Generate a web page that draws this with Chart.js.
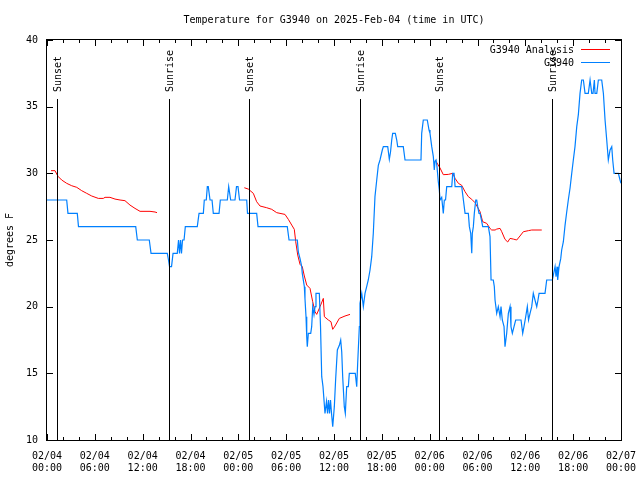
<!DOCTYPE html>
<html>
<head>
<meta charset="utf-8">
<script src="https://cdn.jsdelivr.net/npm/chart.js@4.4.1/dist/chart.umd.min.js"></script>
<style>
  html, body { margin: 0; padding: 0; background: #fff; }
</style>
</head>
<body>
<canvas id="c" width="640" height="480"></canvas>
<script>
const FONT = '"DejaVu Sans Mono", "Liberation Mono", monospace';

// hours since 2025-02-04 00:00 UTC
const obsHours = [
  0, 2.47, 2.63, 3.80, 3.95, 11.13, 11.33, 12.83, 13.05, 15.09,
  15.24, 15.37, 15.62, 15.81, 16.34, 16.50, 16.62, 16.75, 16.87, 17.0,
  17.19, 17.35, 18.85, 19.07, 19.61, 19.73, 19.98, 20.11, 20.23, 20.45,
  20.70, 20.86, 21.58, 21.74, 22.62, 22.79, 23.04, 23.58, 23.77, 23.96,
  24.15, 25.05, 25.15, 26.30, 26.47, 30.14, 30.36, 31.40, 31.52, 31.74,
  31.95, 32.02, 32.28, 32.36, 32.49, 32.58, 32.65, 32.78, 33.08, 33.20,
  33.33, 33.49, 33.62, 33.74, 34.16, 34.31, 34.46, 34.62, 34.87, 35.06,
  35.19, 35.31, 35.44, 35.56, 35.69, 35.84, 36.04, 36.21, 36.42, 36.67,
  36.84, 36.97, 37.09, 37.29, 37.42, 37.59, 37.80, 37.92, 38.67, 38.85,
  38.97, 39.18, 39.26, 39.48, 39.68, 39.89, 40.10, 40.30, 40.52, 40.73,
  40.93, 41.14, 41.36, 41.56, 41.77, 42.06, 42.19, 42.74, 42.94, 43.09,
  43.24, 43.36, 43.69, 43.87, 43.99, 44.69, 44.91, 46.91, 47.00, 47.20,
  47.70, 47.92, 48.04, 48.26, 48.46, 48.58, 48.67, 48.80, 48.92, 49.08,
  49.21, 49.30, 49.51, 49.71, 49.84, 49.99, 50.14, 50.77, 50.89, 51.06,
  51.19, 52.02, 52.23, 52.44, 52.85, 52.98, 53.15, 53.28, 53.35, 53.48,
  53.60, 53.78, 53.90, 54.03, 54.19, 54.32, 54.53, 54.65, 55.36, 55.57,
  55.70, 55.98, 56.11, 56.20, 56.41, 56.61, 56.83, 56.95, 57.11, 57.33,
  57.45, 57.66, 57.87, 58.08, 58.20, 58.37, 58.58, 58.79, 59.46, 59.67,
  59.83, 60.05, 60.25, 60.40, 60.59, 60.80, 61.00, 61.21, 61.43, 61.59,
  61.72, 62.47, 62.68, 63.39, 63.73, 63.85, 63.98, 64.06, 64.23, 64.44,
  64.56, 64.77, 64.98, 65.19, 65.39, 65.61, 65.82, 66.02, 66.23, 66.45,
  66.65, 66.86, 67.07, 67.28, 67.49, 67.90, 68.12, 68.33, 68.49, 68.66,
  68.74, 68.96, 69.16, 69.58, 69.79, 70.00, 70.21, 70.41, 70.63, 70.84,
  70.96, 71.13, 71.67, 71.88, 72.0
];
const obsTemps = [
  28, 28, 27, 27, 26, 26, 25, 25, 24, 24,
  23.5, 23, 23, 24, 24, 25, 24, 25, 24, 25,
  25, 26, 26, 27, 27, 28, 28, 29, 29, 28,
  28, 27, 27, 28, 28, 29, 28, 28, 29, 29,
  28, 28, 27, 27, 26, 26, 25, 25, 24.1, 23.6,
  23, 22.5, 21.5, 20.6, 19.25, 17.75, 17, 18, 18, 18.5,
  20, 19.4, 20, 21, 21, 18.5, 14.75, 14, 12, 12.9,
  12, 13, 12, 13, 12, 11, 12.5, 14.6, 16.75, 17.1,
  17.5, 16.6, 14.75, 12.5, 12, 14, 14, 15, 15, 14,
  15.75, 18.5, 20.25, 21, 20, 21, 21.5, 22, 22.75, 23.75,
  25.5, 28.25, 29.5, 30.6, 31, 31.75, 32, 32, 31.05, 31.6,
  32.5, 33, 33, 32.5, 32, 32, 31, 31, 33, 34,
  34, 33.25, 33, 32, 31.25, 30.25, 30.9, 31, 30.5, 29.4,
  28.75, 28, 28.2, 27, 28, 28, 29, 29, 30, 30,
  29, 29, 28, 27, 27, 26, 25.5, 24, 25.5, 26,
  27, 28, 28, 27.5, 27, 27, 26.4, 26, 26, 25.25,
  22, 22, 21.5, 20.5, 19.5, 20, 19.25, 20, 19, 18.5,
  17, 18, 19.5, 20, 18.5, 18, 18.5, 19, 19, 18,
  18.5, 19.25, 20, 19, 19.5, 20, 21, 20.5, 20, 20.5,
  21, 21, 22, 22, 23, 22.25, 23, 22, 23, 23.6,
  24.25, 24.87, 26.1, 27.1, 28, 28.9, 30, 31, 32, 33.5,
  34.4, 36, 37, 37, 36, 36, 37, 36, 36, 37,
  36, 36, 37, 37, 36, 34, 32.5, 31, 31.75, 32,
  31, 30, 30, 29.5, 29.25
];

// analysis runs, null = gap between runs
const anaHours = [
  0.5, 1.0, 1.22, 1.42, 1.84, 2.47, 3.10, 3.73, 4.35, 4.98,
  5.61, 6.44, 7.06, 7.28, 7.90, 8.53, 9.16, 9.78, 10.41, 11.04,
  11.67, 12.92, 13.55, 13.80,
  19,
  24.75, 25.25, 25.88, 26.30, 26.72, 27.56, 28.19, 28.81, 29.85, 30.27,
  30.70, 31.02, 31.20, 31.45, 31.74, 32.02, 32.28, 32.58, 32.99, 33.33,
  33.62, 33.83, 34.25, 34.66, 34.79, 35.29, 35.62, 35.84, 36.13, 36.67,
  37.38, 38.01,
  43,
  48.80, 49.30, 49.71, 50.34, 50.89, 51.19, 51.60, 52.02, 52.44, 52.85,
  53.28, 53.69, 54.32, 54.65, 55.15, 55.57, 55.78, 56.21, 56.41, 56.83,
  57.04, 57.45, 57.79, 58.08, 58.49, 58.92, 59.33, 59.75, 60.38, 60.80,
  62.06
];
const anaTemps = [
  30.2, 30.2, 29.95, 29.75, 29.5, 29.25, 29.07, 28.95, 28.7, 28.5,
  28.3, 28.12, 28.12, 28.2, 28.2, 28.07, 28.0, 27.95, 27.62, 27.37,
  27.15, 27.15, 27.1, 27.05,
  null,
  28.92, 28.82, 28.5, 27.87, 27.55, 27.42, 27.3, 27.05, 26.92, 26.55,
  26.12, 25.8, 24.87, 23.87, 23.17, 23.0, 22.3, 21.62, 21.37, 20.37,
  19.62, 19.42, 20.0, 20.62, 19.25, 19.0, 18.87, 18.3, 18.55, 19.12,
  19.3, 19.42,
  null,
  30.9, 30.4, 29.9, 29.92, 30.0, 29.62, 29.25, 29.1, 28.62, 28.25,
  28.05, 27.8, 27.12, 26.37, 26.25, 25.87, 25.75, 25.75, 25.82, 25.87,
  25.62, 25.05, 24.85, 25.12, 25.07, 25.0, 25.3, 25.62, 25.7, 25.75,
  25.75
];

const eventHours = [1.22, 15.35, 25.3, 39.3, 49.2, 63.4];
const eventLabels = ['Sunset', 'Sunrise', 'Sunset', 'Sunrise', 'Sunset', 'Sunrise'];

const seriesNames = ['G3940 Analysis', 'G3940'];
const seriesColors = ['#ff0000', '#0080ff'];

function pad(n) { return (n < 10 ? '0' : '') + n; }

// border, inward ticks, sun events and legend, gnuplot style
const frame = {
  id: 'frame',
  afterDatasetsDraw(chart) {
    const { ctx, chartArea: a, scales: { x, y } } = chart;
    ctx.save();
    ctx.strokeStyle = '#000';
    ctx.fillStyle = '#000';
    ctx.lineWidth = 1;
    ctx.font = '10px ' + FONT;

    eventHours.forEach((h, i) => {
      const px = Math.round(x.getPixelForValue(h)) + 0.5;
      ctx.beginPath();
      ctx.moveTo(px, a.top + 59);
      ctx.lineTo(px, a.bottom);
      ctx.stroke();
      ctx.save();
      ctx.translate(px + 1, a.top + 52);
      ctx.rotate(-Math.PI / 2);
      ctx.textAlign = 'left';
      ctx.textBaseline = 'middle';
      ctx.fillText(eventLabels[i], 0, 0);
      ctx.restore();
    });

    ctx.strokeRect(Math.round(a.left) - 0.5, Math.round(a.top) - 0.5,
      Math.round(a.width) + 1, Math.round(a.height) + 1);

    ctx.beginPath();
    for (let h = 0; h <= 72; h += 2) {
      const px = Math.round(x.getPixelForValue(h)) + 0.5;
      const len = h % 6 === 0 ? 6 : 3;
      ctx.moveTo(px, a.bottom); ctx.lineTo(px, a.bottom - len);
      ctx.moveTo(px, a.top); ctx.lineTo(px, a.top + len);
    }
    for (let v = 10; v <= 40; v += 5) {
      const py = Math.round(y.getPixelForValue(v)) + 0.5;
      ctx.moveTo(a.left, py); ctx.lineTo(a.left + 6, py);
      ctx.moveTo(a.right, py); ctx.lineTo(a.right - 6, py);
    }
    ctx.stroke();

    ctx.textAlign = 'right';
    ctx.textBaseline = 'middle';
    seriesNames.forEach((name, i) => {
      const ly = a.top + 10 + i * 13;
      ctx.fillStyle = '#000';
      ctx.fillText(name, a.right - 47, ly);
      ctx.strokeStyle = seriesColors[i];
      ctx.beginPath();
      ctx.moveTo(a.right - 40, ly - 0.5);
      ctx.lineTo(a.right - 11, ly - 0.5);
      ctx.stroke();
    });
    ctx.restore();
  }
};

new Chart(document.getElementById('c'), {
  type: 'line',
  data: {
    datasets: [
      {
        label: seriesNames[0],
        data: anaHours.map((h, i) => ({ x: h, y: anaTemps[i] })),
        borderColor: seriesColors[0],
        borderWidth: 1,
        pointRadius: 0,
        spanGaps: false,
        order: 1,
      },
      {
        label: seriesNames[1],
        data: obsHours.map((h, i) => ({ x: h, y: obsTemps[i] })),
        borderColor: seriesColors[1],
        borderWidth: 1.2,
        pointRadius: 0,
        order: 0,
      },
    ],
  },
  options: {
    responsive: false,
    animation: false,
    events: [],
    layout: { padding: { left: 0, right: 19, top: 0, bottom: 0 } },
    plugins: {
      legend: { display: false },
      tooltip: { enabled: false },
      title: {
        display: true,
        fullSize: false,
        text: 'Temperature for G3940 on 2025-Feb-04 (time in UTC)',
        color: '#000',
        font: { family: FONT, size: 10, weight: 'normal' },
        padding: { top: 14, bottom: 14 },
      },
    },
    scales: {
      x: {
        type: 'linear',
        min: 0,
        max: 72,
        grid: { display: false, drawTicks: false },
        border: { display: false },
        afterFit: (s) => {
          s.height = 40;
          s.paddingLeft = 0;
          s.paddingRight = 0;
        },
        ticks: {
          stepSize: 6,
          autoSkip: false,
          maxRotation: 0,
          padding: 10,
          color: '#000',
          font: { family: FONT, size: 10 },
          callback: (v) => ['02/0' + (4 + Math.floor(v / 24)), pad(v % 24) + ':00'],
        },
      },
      y: {
        min: 10,
        max: 40,
        grid: { display: false, drawTicks: false },
        border: { display: false },
        afterFit: (s) => { s.width = 47; },
        title: {
          display: true,
          text: 'degrees F',
          color: '#000',
          font: { family: FONT, size: 10 },
          padding: { top: 4, bottom: 0 },
        },
        ticks: {
          stepSize: 5,
          padding: 9,
          color: '#000',
          font: { family: FONT, size: 10 },
        },
      },
    },
  },
  plugins: [frame],
});
</script>
</body>
</html>
